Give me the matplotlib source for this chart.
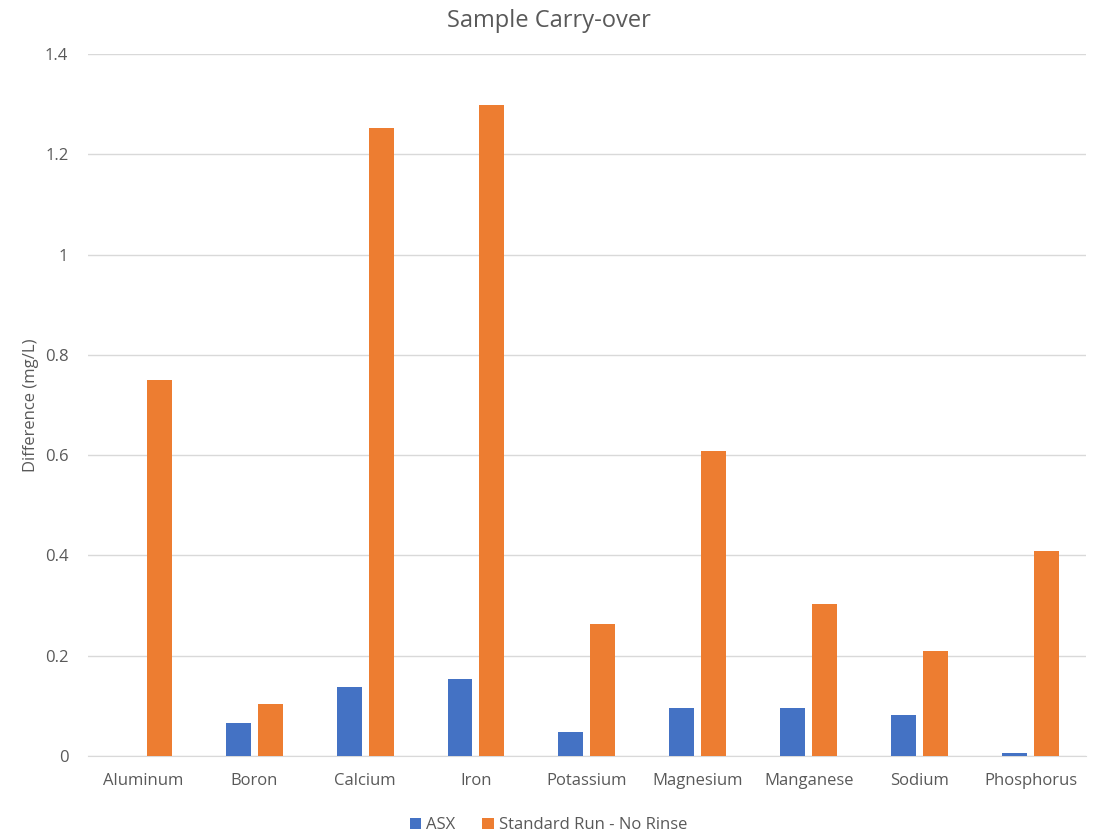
import numpy as np
import matplotlib.pyplot as plt

plt.rcParams['font.family'] = ['Open Sans', 'DejaVu Sans']

elements = ['Aluminum', 'Boron', 'Calcium', 'Iron', 'Potassium',
            'Magnesium', 'Manganese', 'Sodium', 'Phosphorus']
asx = [0.0, 0.065, 0.138, 0.154, 0.048, 0.096, 0.096, 0.082, 0.006]
no_rinse = [0.75, 0.104, 1.252, 1.298, 0.263, 0.608, 0.303, 0.209, 0.408]
yticks = [0, 0.2, 0.4, 0.6, 0.8, 1, 1.2, 1.4]

txt = '#595959'
grid = '#d9d9d9'

fig = plt.figure(figsize=(10.97, 8.38), dpi=100)
ax = fig.add_axes([0.080, 0.0978, 0.910, 0.8378])

x = np.arange(len(elements))
w = 0.225
off = 0.144
ax.bar(x - off, asx, w, color='#4472c4', label='ASX', zorder=3)
ax.bar(x + off, no_rinse, w, color='#ed7d31', label='Standard Run - No Rinse', zorder=3)

ax.set_xlim(-0.5, len(elements) - 0.5)
ax.set_ylim(0, 1.4)
ax.set_yticks(yticks)
ax.set_yticklabels([str(t) for t in yticks])
ax.set_xticks(x)
ax.set_xticklabels(elements)
ax.yaxis.grid(True, color=grid, linewidth=1, zorder=0)
for s in ['top', 'right', 'left']:
    ax.spines[s].set_visible(False)
ax.spines['bottom'].set_color(grid)
ax.tick_params(axis='both', length=0, colors=txt, labelsize=12)
ax.tick_params(axis='x', pad=12)
ax.tick_params(axis='y', pad=14)

ax.set_ylabel('Difference (mg/L)', color=txt, fontsize=12, labelpad=4)
fig.text(0.5, 0.975, 'Sample Carry-over', ha='center', va='center',
         color=txt, fontsize=17)

leg = fig.legend(loc='center', bbox_to_anchor=(0.5, 0.015), ncol=2, frameon=False,
                 fontsize=12, handlelength=0.7, handleheight=0.7,
                 handletextpad=0.3, columnspacing=1.6)
for t in leg.get_texts():
    t.set_color(txt)

fig.savefig('out.png', dpi=100)
